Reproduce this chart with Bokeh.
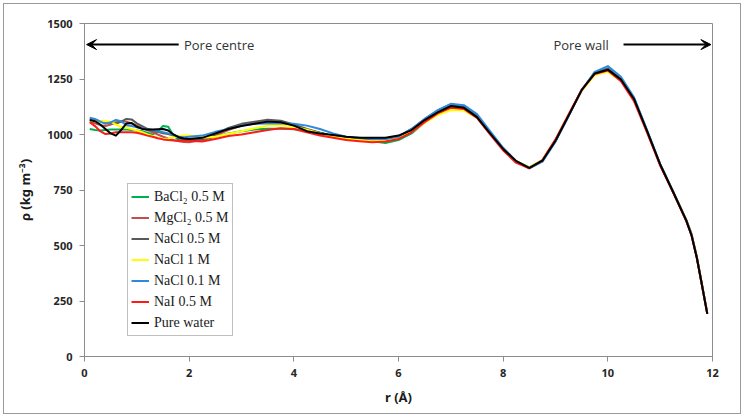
from bokeh.plotting import figure
from bokeh.models import Legend, LegendItem, Arrow, VeeHead, Label, FixedTicker
from bokeh.embed import file_html
from bokeh.resources import INLINE

# ---------------- data ----------------
r_values = [0.1, 0.2, 0.3, 0.4, 0.5, 0.6, 0.7, 0.8, 0.9, 1.0,
            1.1, 1.2, 1.3, 1.4, 1.5, 1.6, 1.7, 1.8, 1.9, 2.0,
            2.25, 2.5, 2.75, 3.0, 3.25, 3.5, 3.75, 4.0, 4.25, 4.5,
            4.75, 5.0, 5.25, 5.5, 5.75, 6.0,
            6.25, 6.5, 6.75, 7.0, 7.25, 7.5, 7.75, 8.0, 8.25, 8.5,
            8.75, 9.0, 9.25, 9.5, 9.75, 10.0, 10.25, 10.5, 10.75, 11.0,
            11.25, 11.5, 11.6, 11.7, 11.8, 11.9]

bacl2_05 = [1025, 1020, 1018, 1020, 1022, 1022, 1022, 1022, 1020, 1018,
            1015, 1008, 1000, 1015, 1038, 1035, 995, 975, 972, 975,
            975, 990, 1005, 1015, 1022, 1026, 1026, 1024, 1020, 1008,
            992, 980, 975, 970, 962, 975,
            1005, 1055, 1098, 1125, 1118, 1078, 1005, 935, 880, 852,
            885, 975, 1088, 1200, 1275, 1292, 1248, 1160, 1015, 865,
            742, 614, 550, 448, 320, 193]

mgcl2_05 = [1058, 1050, 1042, 1038, 1045, 1055, 1060, 1058, 1050, 1040,
            1030, 1020, 1010, 1000, 990, 982, 975, 970, 966, 965,
            975, 995, 1020, 1040, 1052, 1060, 1055, 1040, 1020, 1002,
            990, 982, 975, 970, 975, 990,
            1018, 1062, 1100, 1130, 1122, 1080, 1005, 933, 878, 850,
            882, 972, 1085, 1198, 1274, 1293, 1248, 1158, 1013, 863,
            738, 610, 545, 445, 320, 193]

nacl_05 = [1068, 1066, 1060, 1055, 1052, 1048, 1058, 1070, 1068, 1050,
           1038, 1025, 1018, 1012, 1006, 1002, 995, 985, 975, 973,
           980, 1000, 1030, 1048, 1058, 1066, 1062, 1045, 1025, 1008,
           995, 985, 978, 975, 978, 992,
           1025, 1070, 1108, 1135, 1125, 1082, 1008, 935, 878, 848,
           880, 970, 1085, 1200, 1278, 1298, 1250, 1160, 1015, 865,
           740, 612, 548, 448, 322, 195]

nacl_1 = [1063, 1062, 1060, 1060, 1058, 1045, 1035, 1030, 1025, 1018,
          1010, 1000, 993, 985, 980, 982, 988, 992, 995, 995,
          985, 990, 1003, 1015, 1028, 1040, 1042, 1035, 1022, 1005,
          990, 982, 975, 970, 972, 985,
          1012, 1052, 1088, 1110, 1108, 1075, 1005, 935, 880, 852,
          885, 975, 1088, 1198, 1268, 1282, 1242, 1155, 1012, 865,
          742, 615, 550, 450, 322, 195]

nacl_01 = [1075, 1070, 1058, 1048, 1055, 1066, 1060, 1042, 1038, 1033,
           1028, 1025, 1020, 1015, 1010, 1005, 998, 990, 988, 990,
           995, 1012, 1025, 1040, 1048, 1050, 1050, 1048, 1040, 1025,
           1005, 990, 985, 980, 980, 990,
           1025, 1070, 1110, 1138, 1132, 1092, 1015, 940, 880, 848,
           878, 968, 1082, 1200, 1282, 1308, 1260, 1168, 1020, 868,
           742, 615, 552, 450, 322, 195]

nai_05 = [1055, 1038, 1015, 1002, 1005, 1010, 1010, 1010, 1010, 1008,
          1002, 995, 990, 983, 978, 975, 973, 972, 972, 972,
          968, 980, 993, 1000, 1010, 1020, 1028, 1025, 1010, 995,
          985, 975, 970, 965, 968, 980,
          1010, 1055, 1095, 1120, 1115, 1075, 1000, 928, 872, 848,
          885, 978, 1090, 1202, 1272, 1288, 1240, 1150, 1008, 860,
          738, 610, 545, 445, 320, 192]

pure_water = [1065, 1060, 1045, 1025, 1005, 995, 1020, 1050, 1052, 1035,
              1025, 1022, 1022, 1024, 1025, 1018, 1000, 988, 982, 980,
              985, 1005, 1025, 1038, 1048, 1058, 1055, 1040, 1015, 1005,
              998, 990, 985, 985, 985, 995,
              1020, 1065, 1100, 1128, 1120, 1078, 1005, 935, 880, 850,
              882, 972, 1085, 1200, 1275, 1292, 1248, 1160, 1015, 865,
              740, 612, 545, 445, 320, 192]

series_labels = ["BaCl\u2082 0.5 M", "MgCl\u2082 0.5 M", "NaCl 0.5 M", "NaCl 1 M",
                 "NaCl 0.1 M", "NaI 0.5 M", "Pure water"]
series_values = [bacl2_05, mgcl2_05, nacl_05, nacl_1, nacl_01, nai_05, pure_water]
series_colors = ["#00b050", "#c0504d", "#595959", "#ffff00", "#2e8ad8", "#ff1a1a", "#000000"]

x_ticks = [0, 2, 4, 6, 8, 10, 12]
y_ticks = [0, 250, 500, 750, 1000, 1250, 1500]

# ---------------- figure ----------------
p = figure(output_backend="svg", toolbar_location=None,
           x_range=(0, 12), y_range=(0, 1500),
           frame_width=628, frame_height=333,
           min_border_left=80, min_border_right=28,
           min_border_top=19, min_border_bottom=57)
p.styles = {"margin-left": "3px", "margin-top": "3px", "border": "1px solid #9a9a9a"}
p.background_fill_color = "white"
p.border_fill_color = "white"
p.outline_line_color = "#8c8c8c"
p.grid.visible = False

for ax in (p.xaxis[0], p.yaxis[0]):
    ax.axis_line_color = "#8c8c8c"
    ax.major_tick_line_color = "#8c8c8c"
    ax.major_tick_in = 0
    ax.major_tick_out = 5
    ax.minor_tick_line_color = None
    ax.major_label_text_font = "Noto Sans"
    ax.major_label_text_font_style = "bold"
    ax.major_label_text_font_size = "11px"
    ax.major_label_text_color = "#262626"
    ax.major_label_standoff = 7
    ax.axis_label_text_font = "Noto Sans"
    ax.axis_label_text_font_style = "bold"
    ax.axis_label_text_font_size = "13px"
    ax.axis_label_text_color = "#1a1a1a"
p.xaxis.ticker = FixedTicker(ticks=x_ticks)
p.yaxis.ticker = FixedTicker(ticks=y_ticks)
p.xaxis.axis_label = "r (\u00c5)"
p.yaxis.axis_label = "\u03c1 (kg m\u207b\u00b3)"
p.xaxis.axis_label_standoff = 8
p.yaxis.axis_label_standoff = 10

items = []
for lab, vals, col in zip(series_labels, series_values, series_colors):
    rend = p.line(r_values, vals, line_color=col, line_width=2, line_join="round")
    items.append(LegendItem(label=lab, renderers=[rend]))

legend = Legend(items=items, location=(43, 20), margin=0, padding=3, spacing=2,
                label_height=19, glyph_height=19, glyph_width=18, label_standoff=5,
                label_text_font="Liberation Serif", label_text_font_size="14px",
                label_text_color="#1a1a1a",
                border_line_color="#7f7f7f", border_line_width=1,
                background_fill_color="white", background_fill_alpha=1)
p.add_layout(legend)

# arrows and annotations
p.add_layout(Arrow(end=VeeHead(size=10, fill_color="black", line_color="black", line_width=1),
                   x_start=1.8, y_start=1405, x_end=0.04, y_end=1405,
                   line_color="black", line_width=2))
p.add_layout(Arrow(end=VeeHead(size=10, fill_color="black", line_color="black", line_width=1),
                   x_start=10.3, y_start=1405, x_end=11.97, y_end=1405,
                   line_color="black", line_width=2))
p.add_layout(Label(x=1.9, y=1405, text="Pore centre", text_baseline="middle",
                   text_font="Open Sans", text_font_size="13px", text_color="#333333"))
p.add_layout(Label(x=8.96, y=1405, text="Pore wall", text_baseline="middle",
                   text_font="Open Sans", text_font_size="13px", text_color="#333333"))

open("out.html", "w").write(file_html(p, INLINE))
